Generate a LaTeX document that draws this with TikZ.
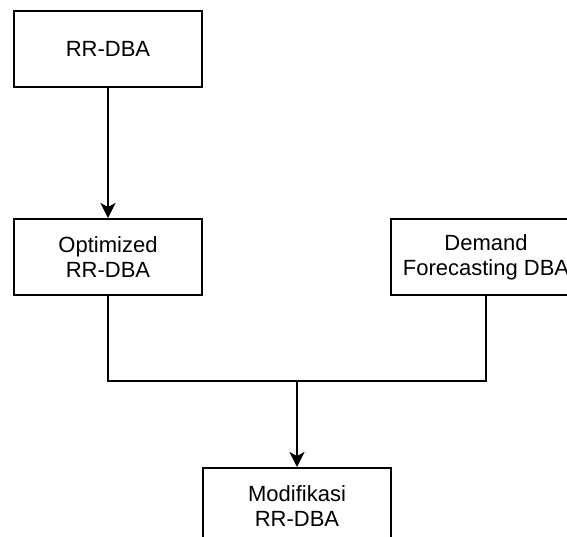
\documentclass[tikz,border=0pt]{standalone}
\usepackage{fontspec}
\setmainfont{Liberation Sans}
\usepackage{tikz}
\usetikzlibrary{arrows.meta, calc}
\usetikzlibrary{positioning, shapes}

\begin{document}
\begin{tikzpicture}[x=1pt,y=1pt,>={Stealth[length=15pt,width=15pt,inset=4pt]},
	font=\fontsize{22}{25}\selectfont]

		\tikzstyle{block}=[rectangle,draw=black,line width=2pt,fill=white,
			minimum width=188pt,minimum height=76pt,align=center,inner sep=2pt]
		\tikzstyle{link}=[line width=2pt,draw=black]

		\useasboundingbox (0,0) rectangle (567,-536);

		\node [block, anchor=north west] (rrdba) at (13,-10) {RR-DBA};
		\node [block, below=130pt of rrdba] (optim) {Optimized\\RR-DBA};
		\node [block, minimum width=190pt, right=187pt of optim] (demand) {Demand\\Forecasting DBA};
		\coordinate (mid) at ($(optim.south)!.5!(demand.south)$);
		\coordinate [below=85pt of mid] (join);
		\node [block, below=171pt of mid] (modif) {Modifikasi\\RR-DBA};

		\draw [link,->] (rrdba) -- (optim);
		\draw [link] (optim.south) |- (join);
		\draw [link] (demand.south) |- (join);
		\draw [link,->] (join) -- (modif);
	\end{tikzpicture}
\end{document}
